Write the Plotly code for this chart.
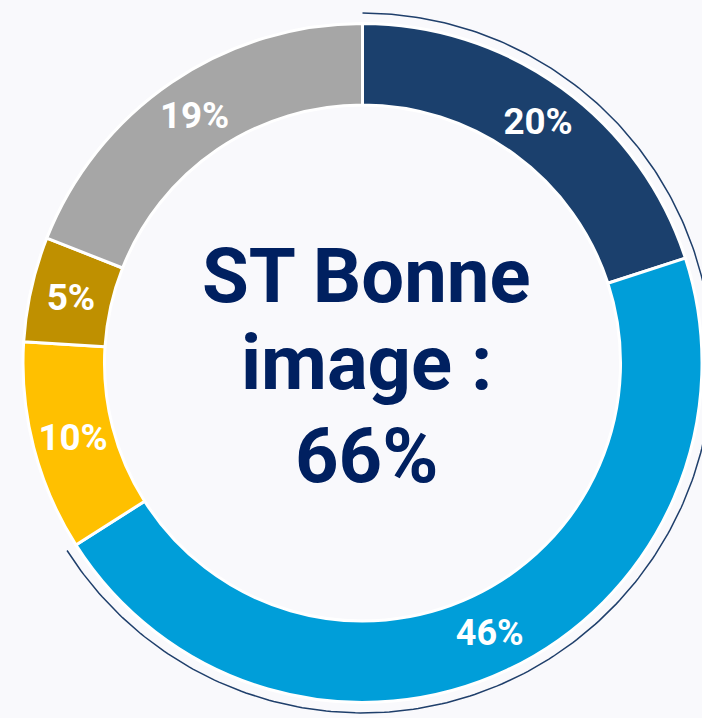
import math
import plotly.graph_objects as go

# Data
categories = ["Très bonne image", "Plutôt bonne image", "Plutôt mauvaise image", "Très mauvaise image", "Ne connaît pas"]
values = [20, 46, 10, 5, 19]
colors = ["#1b406d", "#009ed9", "#ffc000", "#bf9000", "#a6a6a6"]
center_lines = ["ST Bonne", "image :", "66%"]

W, H = 702, 718
BG = "#f9f9fc"
NAVY_TEXT = "#002060"

# Pie geometry (pixels)
cx, cy_top = 362.5, 363.0  # cy measured from top
left = 23.0
R = (W - left) / 2.0
cy = H - cy_top  # from bottom

fig = go.Figure()

# Outer thin arc surrounding the "bonne image" slices
good_share = (values[0] + values[1]) / sum(values)
r_arc = R * 352.5 / 342.0
n = 300
angs = [math.pi / 2 - 2 * math.pi * good_share * i / (n - 1) for i in range(n)]
fig.add_trace(go.Scatter(
    x=[cx + r_arc * math.cos(a) for a in angs],
    y=[cy + r_arc * math.sin(a) for a in angs],
    mode="lines",
    line=dict(color="#1f3f6b", width=1.5),
    hoverinfo="skip",
    showlegend=False,
))

fig.add_trace(go.Pie(
    labels=categories,
    values=values,
    sort=False,
    direction="clockwise",
    rotation=0,
    hole=0.76,
    marker=dict(colors=colors, line=dict(color="white", width=3)),
    texttemplate="%{value}%",
    textposition="inside",
    insidetextorientation="horizontal",
    textfont=dict(family="Roboto", size=[37, 36, 37, 37, 37], color="white", weight="bold"),
    domain=dict(x=[left / W, 1.0], y=[(cy - R) / H, (cy + R) / H]),
    showlegend=False,
    hoverinfo="label+percent",
))

# Center text
line_mid_px = [275.5, 363.0, 456.0]
for txt, ym in zip(center_lines, line_mid_px):
    fig.add_annotation(
        x=366, y=H - ym, xref="x", yref="y",
        text=f"<b>{txt}</b>", showarrow=False,
        font=dict(family="Roboto", size=76, color=NAVY_TEXT),
        xanchor="center", yanchor="middle",
    )

fig.update_layout(
    width=W, height=H,
    margin=dict(l=0, r=0, t=0, b=0),
    paper_bgcolor=BG, plot_bgcolor=BG,
    xaxis=dict(range=[0, W], visible=False, fixedrange=True, domain=[0, 1]),
    yaxis=dict(range=[0, H], visible=False, fixedrange=True, domain=[0, 1]),
    showlegend=False,
)

fig.write_html(
    "out.html",
    config={"displayModeBar": False},
    post_script="document.body.style.margin='0';document.body.style.overflow='hidden';",
)
